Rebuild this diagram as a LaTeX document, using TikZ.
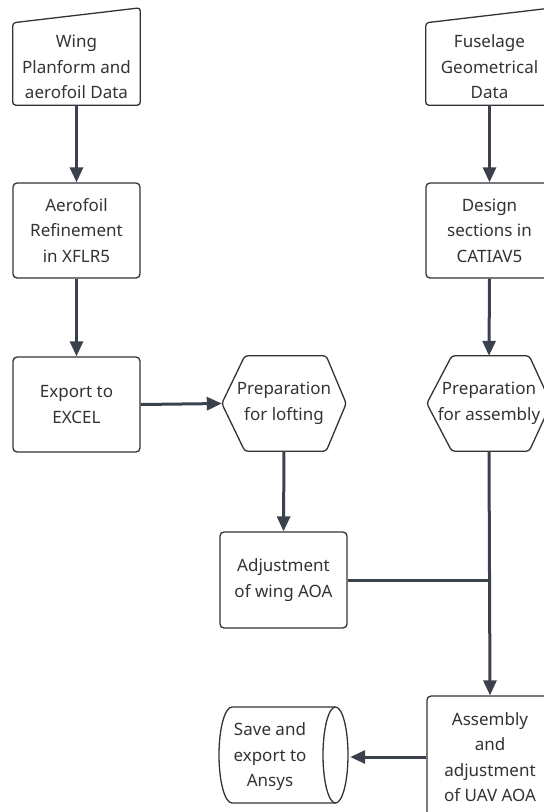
\documentclass[tikz,border=0pt]{standalone}
\usepackage{fontspec}
\setmainfont{Noto Sans}
\usetikzlibrary{arrows.meta,calc}
\definecolor{edgec}{HTML}{3A414D}
\definecolor{strokec}{HTML}{333333}
\definecolor{txtc}{HTML}{333333}
\begin{document}
\begin{tikzpicture}[x=1pt,y=1pt,
  lbl/.style={inner sep=0pt, align=center, text=txtc, font=\fontsize{17}{25.5}\selectfont},
  boxed/.style={lbl, draw=strokec, line width=1.3pt, rounded corners=4pt, fill=white},
  outline/.style={draw=strokec, line width=1.3pt, rounded corners=3pt},
  flow/.style={draw=edgec, line width=3pt, -{Triangle[length=15pt,width=13pt]}},
  link/.style={draw=edgec, line width=3pt}]
\useasboundingbox (0,0) rectangle (544,-812);
\clip (0,0) rectangle (544,-812);

% manual inputs
\node[lbl, minimum width=127pt, minimum height=76pt] (wing) at (76.5,-67) {Wing\\Planform and\\aerofoil Data};
\draw[outline] (wing.south west) -- (wing.south east) -- ($(wing.north east)+(0,21)$) -- ($(wing.north west)+(0,6)$) -- cycle;
\node[lbl, minimum width=127pt, minimum height=76pt] (fus) at (489.5,-67) {Fuselage\\Geometrical\\Data};
\draw[outline] (fus.south west) -- (fus.south east) -- ($(fus.north east)+(0,21)$) -- ($(fus.north west)+(0,6)$) -- cycle;

% process boxes
\node[boxed, minimum width=127pt, minimum height=95pt] (aero) at (76.5,-230.5) {Aerofoil\\Refinement\\in XFLR5};
\node[boxed, minimum width=127pt, minimum height=95pt] (export) at (76.5,-404.5) {Export to\\EXCEL};
\node[boxed, minimum width=127pt, minimum height=95pt] (design) at (489.5,-230.5) {Design\\sections in\\CATIAV5};
\node[boxed, minimum width=127pt, minimum height=96pt] (adj) at (283.5,-580) {Adjustment\\of wing AOA};
\node[boxed, minimum width=126pt, minimum height=122pt] (asm) at (490,-757) {Assembly\\and\\adjustment\\of UAV AOA};

% hexagons
\node[lbl, minimum width=124pt, minimum height=95pt] (loft) at (284,-403.5) {Preparation\\for lofting};
\draw[outline] (loft.west) -- ($(loft.north west)+(23,0)$) -- ($(loft.north east)+(-20,0)$) -- (loft.east) -- ($(loft.south east)+(-20,0)$) -- ($(loft.south west)+(23,0)$) -- cycle;
\node[lbl, minimum width=124pt, minimum height=95pt] (prep) at (489,-403.5) {Preparation\\for assembly};
\draw[outline] (prep.west) -- ($(prep.north west)+(25,0)$) -- ($(prep.north east)+(-22,0)$) -- (prep.east) -- ($(prep.south east)+(-22,0)$) -- ($(prep.south west)+(25,0)$) -- cycle;

% cylinder
\node[lbl, minimum width=160pt, minimum height=96pt] (cyl) at (270,-757) {Save and\\export to\\Ansys};
\draw[outline, rounded corners=0pt] (232,-707) -- (335.5,-707) arc[start angle=90, end angle=-90, x radius=12.5, y radius=48] -- (232,-803) arc[start angle=270, end angle=90, x radius=13, y radius=48] -- cycle;
\draw[outline, rounded corners=0pt] (335.5,-707) arc[start angle=90, end angle=270, x radius=12.5, y radius=48];

% connectors
\draw[flow] (wing.south) -- (aero.north);
\draw[flow] (aero.south) -- (export.north);
\draw[flow] (export.east) -- (loft.west);
\draw[flow] (loft.south) -- (adj.north);
\draw[flow] (fus.south) -- (design.north);
\draw[flow] (design.south) -- (prep.north);
\coordinate (j) at (prep.south |- adj.east);
\draw[link] (adj.east) -- (j);
\draw[flow] (prep.south) -- (asm.north);
\draw[flow] (asm.west) -- (cyl.east);
\end{tikzpicture}
\end{document}
